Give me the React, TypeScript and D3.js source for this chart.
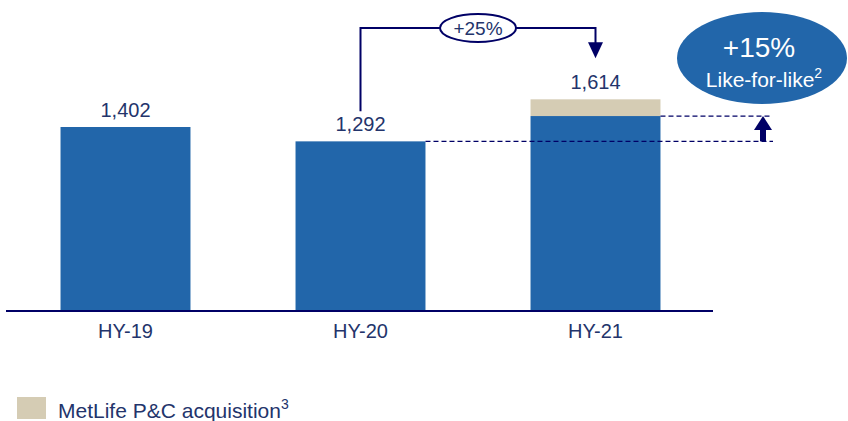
import React from "react";
import * as d3 from "d3";

const categories = ["HY-19", "HY-20", "HY-21"];
const totals = [1402, 1292, 1614];
const acquisition = [0, 0, 128];
const totalGrowthLabel = "+25%";
const lflGrowthLabel = "+15%";
const lflText = "Like-for-like";
const legendLabel = "MetLife P&C acquisition";

const W = 848;
const H = 421;
const NAVY = "#000066";
const TEXT = "#23346b";
const BLUE = "#2266AA";
const BEIGE = "#D5CCB4";
const FONT = "'Liberation Sans', Arial, sans-serif";

export default function App() {
  const x = d3
    .scaleBand<string>()
    .domain(categories)
    .range([8, 713])
    .paddingInner(0.447)
    .paddingOuter(0.2235);
  const y = d3.scaleLinear().domain([0, 1402]).range([310, 127]);
  const fmt = d3.format(",");

  const rows = categories.map((c, i) => ({
    cat: c,
    total: totals[i],
    acq: acquisition[i],
    base: totals[i] - acquisition[i],
  }));

  const bw = x.bandwidth();
  const cx = (c: string) => (x(c) as number) + bw / 2;

  const c20 = cx("HY-20");
  const c21 = cx("HY-21");
  const bracketTop = 28;
  const leftBottom = y(totals[1]) - 30;
  const arrowTip = y(totals[2]) - 41;

  const lowY = y(rows[1].total);
  const upY = y(rows[2].base);
  const arrX = 763;

  return (
    <svg
      width={W}
      height={H}
      style={{ position: "absolute", left: 0, top: 0, background: "#fff" }}
      fontFamily={FONT}
    >
      {/* bars */}
      {rows.map((r) => (
        <g key={r.cat}>
          <rect
            x={x(r.cat)}
            y={y(r.base)}
            width={bw}
            height={y(0) - y(r.base)}
            fill={BLUE}
          />
          {r.acq > 0 && (
            <rect
              x={x(r.cat)}
              y={y(r.total)}
              width={bw}
              height={y(r.base) - y(r.total)}
              fill={BEIGE}
            />
          )}
          <text
            x={cx(r.cat)}
            y={y(r.total) - 10}
            textAnchor="middle"
            fontSize={20}
            fill={TEXT}
          >
            {fmt(r.total)}
          </text>
          <text
            x={cx(r.cat)}
            y={338}
            textAnchor="middle"
            fontSize={20}
            fill={TEXT}
          >
            {r.cat}
          </text>
        </g>
      ))}

      {/* axis */}
      <line x1={6} x2={713} y1={311} y2={311} stroke={NAVY} strokeWidth={2} />

      {/* dashed reference lines */}
      <line
        x1={(x("HY-20") as number) + bw}
        x2={773}
        y1={lowY}
        y2={lowY}
        stroke={NAVY}
        strokeWidth={1.3}
        strokeDasharray="5,3"
      />
      <line
        x1={(x("HY-21") as number) + bw}
        x2={771}
        y1={upY}
        y2={upY}
        stroke={NAVY}
        strokeWidth={1.3}
        strokeDasharray="5,3"
      />
      {/* up arrow */}
      <rect x={arrX - 3} y={upY + 13} width={6} height={lowY - upY - 13} fill={NAVY} />
      <path
        d={`M${arrX - 9},${upY + 14} L${arrX + 9},${upY + 14} L${arrX},${upY} Z`}
        fill={NAVY}
      />

      {/* bracket */}
      <path
        d={`M${c20},${leftBottom} V${bracketTop} H${c21} V${arrowTip - 15}`}
        fill="none"
        stroke={NAVY}
        strokeWidth={2}
      />
      <path
        d={`M${c21 - 7.5},${arrowTip - 16} L${c21 + 7.5},${arrowTip - 16} L${c21},${arrowTip} Z`}
        fill={NAVY}
      />
      <ellipse
        cx={478}
        cy={bracketTop}
        rx={38}
        ry={14}
        fill="#fff"
        stroke={NAVY}
        strokeWidth={2}
      />
      <text x={478} y={35} textAnchor="middle" fontSize={19} fill={TEXT}>
        {totalGrowthLabel}
      </text>

      {/* like-for-like bubble */}
      <ellipse cx={762} cy={58} rx={85} ry={46} fill={BLUE} />
      <text x={759} y={57} textAnchor="middle" fontSize={28} fill="#fff">
        {lflGrowthLabel}
      </text>
      <text x={764} y={87} textAnchor="middle" fontSize={21} fill="#fff">
        {lflText}
        <tspan fontSize={14} dy={-9}>
          2
        </tspan>
      </text>

      {/* legend */}
      <rect x={17} y={397} width={29} height={22} fill={BEIGE} />
      <text x={58} y={418} fontSize={21} fill={TEXT}>
        {legendLabel}
        <tspan fontSize={14} dy={-9}>
          3
        </tspan>
      </text>
    </svg>
  );
}
